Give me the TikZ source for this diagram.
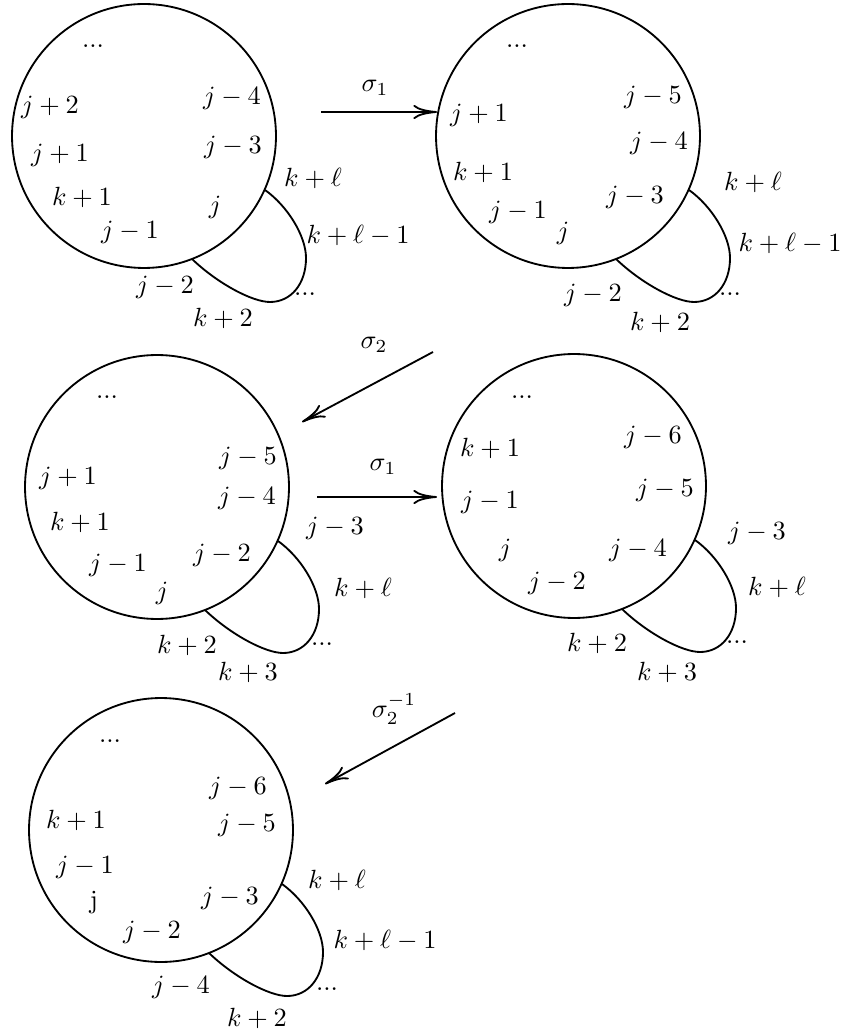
\documentclass[tikz,border=0pt]{standalone}
\usetikzlibrary{arrows.meta}
\begin{document}
\begin{tikzpicture}[x=0.38pt,y=-0.38pt,
  ring/.style={draw, circle, minimum size=100.3pt, inner sep=0pt, line width=0.7pt},
  lbl/.style={inner sep=0pt},
  conn/.style={-{To[length=9pt,width=5.4pt]}, line width=0.7pt},
  loopy/.pic={\draw[line width=0.7pt] (121,54) .. controls (143.5,70) and (162,100) .. (162,122) .. controls (162,148) and (147,166) .. (126,166) .. controls (108,166) and (73,147) .. (48,123);}
]
\useasboundingbox (0,0) rectangle (845,1036);

% ---------- circle 1 ----------
\node[ring] (c1) at (144,136) {};
\pic at (c1.center) {loopy};
\node[lbl] (a1) at (93,46) {...};
\node[lbl] (a2) at (50,107) {$j+2$};
\node[lbl] (a3) at (60,155) {$j+1$};
\node[lbl] (a4) at (82,197) {$k+1$};
\node[lbl] (a5) at (130,232) {$j-1$};
\node[lbl] (a6) at (232,98) {$j-4$};
\node[lbl] (a7) at (233,147) {$j-3$};
\node[lbl] (a8) at (215,207) {$j$};
\node[lbl] (a9) at (313,178) {$k+\ell$};
\node[lbl] (a10) at (358,235) {$k+\ell-1$};
\node[lbl] (a11) at (165,287) {$j-2$};
\node[lbl] (a12) at (223,318) {$k+2$};
\node[lbl] (a13) at (305,294) {...};

% ---------- circle 2 ----------
\node[ring] (c2) at (568,136) {};
\pic at (c2.center) {loopy};
\node[lbl] (b1) at (517,46) {...};
\node[lbl] (b2) at (479,115) {$j+1$};
\node[lbl] (b3) at (483,172) {$k+1$};
\node[lbl] (b4) at (518,212) {$j-1$};
\node[lbl] (b5) at (563,233) {$j$};
\node[lbl] (b6) at (653,97) {$j-5$};
\node[lbl] (b7) at (659,143) {$j-4$};
\node[lbl] (b8) at (635,197) {$j-3$};
\node[lbl] (b9) at (753,182) {$k+\ell$};
\node[lbl] (b10) at (790,243) {$k+\ell-1$};
\node[lbl] (b11) at (593,295) {$j-2$};
\node[lbl] (b12) at (660,322) {$k+2$};
\node[lbl] (b13) at (730,294) {...};

% ---------- circle 3 ----------
\node[ring] (c3) at (157,487) {};
\pic at (c3.center) {loopy};
\node[lbl] (d1) at (107,397) {...};
\node[lbl] (d2) at (68,478) {$j+1$};
\node[lbl] (d3) at (80,522) {$k+1$};
\node[lbl] (d4) at (118,565) {$j-1$};
\node[lbl] (d5) at (162,593) {$j$};
\node[lbl] (d6) at (248,458) {$j-5$};
\node[lbl] (d7) at (247,498) {$j-4$};
\node[lbl] (d8) at (222,555) {$j-2$};
\node[lbl] (d9) at (335,528) {$j-3$};
\node[lbl] (d10) at (363,588) {$k+\ell$};
\node[lbl] (d11) at (187,645) {$k+2$};
\node[lbl] (d12) at (248,672) {$k+3$};
\node[lbl] (d13) at (322,644) {...};

% ---------- circle 4 ----------
\node[ring] (c4) at (574,486) {};
\pic at (c4.center) {loopy};
\node[lbl] (e1) at (522,397) {...};
\node[lbl] (e2) at (490,448) {$k+1$};
\node[lbl] (e3) at (490,502) {$j-1$};
\node[lbl] (e4) at (505,550) {$j$};
\node[lbl] (e5) at (557,583) {$j-2$};
\node[lbl] (e6) at (653,437) {$j-6$};
\node[lbl] (e7) at (665,490) {$j-5$};
\node[lbl] (e8) at (638,550) {$j-4$};
\node[lbl] (e9) at (757,533) {$j-3$};
\node[lbl] (e10) at (777,587) {$k+\ell$};
\node[lbl] (e11) at (597,643) {$k+2$};
\node[lbl] (e12) at (667,672) {$k+3$};
\node[lbl] (e13) at (737,642) {...};

% ---------- circle 5 ----------
\node[ring] (c5) at (161,830) {};
\pic at (c5.center) {loopy};
\node[lbl] (f1) at (110,741) {...};
\node[lbl] (f2) at (76,820) {$k+1$};
\node[lbl] (f3) at (85,867) {$j-1$};
\node[lbl] (f4) at (94,903) {j};
\node[lbl] (f5) at (152,932) {$j-2$};
\node[lbl] (f6) at (238,788) {$j-6$};
\node[lbl] (f7) at (247,825) {$j-5$};
\node[lbl] (f8) at (230,898) {$j-3$};
\node[lbl] (f9) at (337,880) {$k+\ell$};
\node[lbl] (f10) at (385,940) {$k+\ell-1$};
\node[lbl] (f11) at (181,987) {$j-4$};
\node[lbl] (f12) at (257,1018) {$k+2$};
\node[lbl] (f13) at (327,989) {...};

% ---------- arrows ----------
\coordinate (p1s) at (321,112);
\coordinate (p1e) at (437,112);
\draw[conn] (p1s) -- (p1e);
\node[lbl] (s1) at (375,88) {$\sigma_1$};

\coordinate (p2s) at (433,352);
\coordinate (p2e) at (302,422);
\draw[conn] (p2s) -- (p2e);
\node[lbl] (s2) at (374,345) {$\sigma_2$};

\coordinate (p3s) at (317,497);
\coordinate (p3e) at (437,497);
\draw[conn] (p3s) -- (p3e);
\node[lbl] (s3) at (383,467) {$\sigma_1$};

\coordinate (p4s) at (455,713);
\coordinate (p4e) at (325,784);
\draw[conn] (p4s) -- (p4e);
\node[lbl] (s4) at (394,709) {$\sigma_2^{-1}$};
\end{tikzpicture}
\end{document}
